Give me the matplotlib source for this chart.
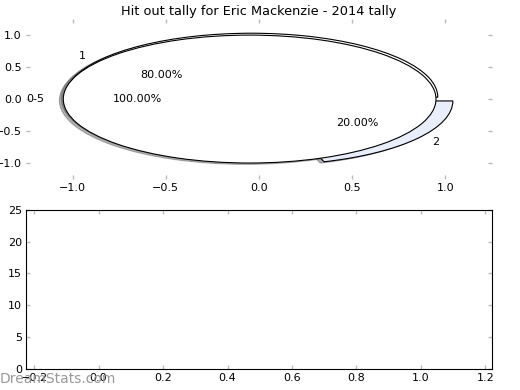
import matplotlib
matplotlib.use('Agg')
from matplotlib import pyplot as plt

# data
labels1 = ['1', '2']
values1 = [80, 20]
colors1 = ['white', '#e8eefb']
labels2 = ['0-5']
values2 = [100]
colors2 = ['white']
title = 'Hit out tally for Eric Mackenzie - 2014 tally'
pie_ticks = [-1.0, -0.5, 0.0, 0.5, 1.0]

plt.rcParams['font.family'] = ['DejaVu Sans']

fig = plt.figure(figsize=(5.2, 3.9), dpi=100)

shadow = {'ox': -0.015, 'oy': -0.015, 'shade': 0.6}

ax1 = fig.add_axes([0.05, 0.541, 0.896, 0.41])
ax1.pie(values1, labels=labels1, colors=colors1, explode=[0.05, 0.05],
        autopct='%1.2f%%', shadow=shadow,
        wedgeprops={'edgecolor': 'black', 'linewidth': 0.8},
        textprops={'fontsize': 8})
ax1.pie(values2, labels=labels2, colors=colors2, explode=[0.05],
        autopct='%1.2f%%', shadow=shadow,
        wedgeprops={'edgecolor': 'black', 'linewidth': 0.8},
        textprops={'fontsize': 8})
ax1.set_aspect('auto')
ax1.set_xlim(-1.25, 1.25)
ax1.set_ylim(-1.25, 1.25)
ax1.set_frame_on(False)
ax1.set_xticks(pie_ticks)
ax1.set_yticks(pie_ticks)
ax1.set_title(title, fontsize=9.3, pad=3)

ax2 = fig.add_axes([0.05, 0.054, 0.896, 0.408])
ax2.set_xlim(-0.225, 1.22)
ax2.set_ylim(0, 25)
ax2.set_xticks([-0.2, 0.0, 0.2, 0.4, 0.6, 0.8, 1.0, 1.2])
ax2.set_yticks([0, 5, 10, 15, 20, 25])

for ax in (ax1, ax2):
    ax.tick_params(direction='in', length=3, width=1, color='#bbbbbb',
                   top=True, right=True, labelsize=8, pad=3)

fig.text(0.0, 0.01, 'DreamStats.com', color='#999999', fontsize=10,
         ha='left', va='bottom')

fig.savefig('out.png', dpi=100)
